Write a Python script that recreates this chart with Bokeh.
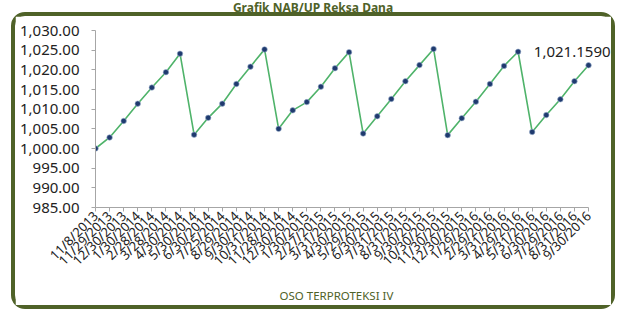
import math
from bokeh.plotting import figure
from bokeh.models import (ColumnDataSource, FixedTicker, NumeralTickFormatter,
                          Label, Range1d, Div, Spacer, Title)
from bokeh.layouts import column, row
from bokeh.embed import file_html
from bokeh.resources import INLINE

# ---- data ----
dates = ["11/8/2013", "11/29/2013", "12/30/2013", "1/30/2014", "2/28/2014", "3/28/2014",
         "4/30/2014", "5/30/2014", "6/30/2014", "7/25/2014", "8/29/2014", "9/30/2014",
         "10/31/2014", "11/28/2014", "12/30/2014", "1/30/2015", "2/27/2015", "3/31/2015",
         "4/30/2015", "5/29/2015", "6/30/2015", "7/31/2015", "8/31/2015", "9/30/2015",
         "10/30/2015", "11/30/2015", "12/30/2015", "1/29/2016", "2/29/2016", "3/31/2016",
         "4/29/2016", "5/31/2016", "6/30/2016", "7/29/2016", "8/31/2016", "9/30/2016"]
nav = [1000.0, 1002.8, 1007.0, 1011.4, 1015.5, 1019.4,
       1024.1, 1003.5, 1007.8, 1011.4, 1016.4, 1020.8,
       1025.2, 1005.0, 1009.7, 1011.8, 1015.7, 1020.4,
       1024.5, 1003.8, 1008.2, 1012.6, 1017.1, 1021.2,
       1025.3, 1003.4, 1007.7, 1011.9, 1016.4, 1021.0,
       1024.6, 1004.2, 1008.5, 1012.5, 1017.1, 1021.159]
series_name = "OSO TERPROTEKSI IV"
title_text = "Grafik NAB/UP Reksa Dana"
last_label = "1,021.1590"
y_ticks = [985, 990, 995, 1000, 1005, 1010, 1015, 1020, 1025, 1030]

FONT = "Noto Sans"
OLIVE = "#4f6228"
W, H = 604, 297

idx = list(range(len(dates)))
src = ColumnDataSource(dict(x=idx, y=nav))

title = Div(text=(f'<div style="margin:0;padding:0;text-align:center;font-weight:bold;'
                  f'color:{OLIVE};font-family:\'{FONT}\';font-size:12px;line-height:12px;'
                  f'width:{W}px;">{title_text}</div>'),
            width=W, height=12, margin=0)

p = figure(width=W, height=H, output_backend="svg", toolbar_location=None,
           x_range=Range1d(0, 36.63), y_range=Range1d(985, 1030),
           min_border_left=80, min_border_right=8, min_border_top=14, min_border_bottom=106)
p.styles = {"border": f"4px solid {OLIVE}", "border-radius": "14px",
            "box-sizing": "border-box"}
p.outline_line_color = None
p.xgrid.visible = False
p.ygrid.visible = False

line_r = p.line("x", "y", source=src, line_color="#4fb36a", line_width=1.6)
dot_r = p.scatter("x", "y", source=src, size=5.5, fill_color="#1f3a6e",
                  line_color="#9fb4d0", line_width=0.6)

p.yaxis.ticker = FixedTicker(ticks=y_ticks)
p.yaxis.formatter = NumeralTickFormatter(format="0,0.00")
p.xaxis.ticker = FixedTicker(ticks=idx)
p.xaxis.bounds = (0, len(dates) - 1)
p.xaxis.major_label_overrides = {i: d for i, d in enumerate(dates)}
p.xaxis.major_label_orientation = math.pi / 4
for ax in (p.xaxis, p.yaxis):
    ax.axis_line_color = "#a6a6a6"
    ax.major_tick_line_color = "#a6a6a6"
    ax.major_tick_out = 4
    ax.major_tick_in = 0
    ax.minor_tick_line_color = None
    ax.major_label_text_font = FONT
    ax.major_label_text_color = "#222222"
p.xaxis.major_label_text_font_size = "13px"
p.yaxis.major_label_text_font_size = "15px"
p.xaxis.major_label_standoff = 2
p.yaxis.major_label_standoff = 12

p.add_layout(Label(x=idx[-1], y=nav[-1], text=last_label, x_offset=22, y_offset=8,
                   text_align="right", text_baseline="bottom", text_font=FONT,
                   text_font_size="15px", text_color="#222222"))

# series name shown below the axis (legend text)
p.add_layout(Title(text=series_name, align="left", offset=184, standoff=14,
                   text_font=FONT, text_font_size="11.5px", text_font_style="normal",
                   text_color=OLIVE), "below")

layout = row(Spacer(width=11, height=10), column(title, p, spacing=0), spacing=0)
open("out.html", "w").write(file_html(layout, INLINE))
